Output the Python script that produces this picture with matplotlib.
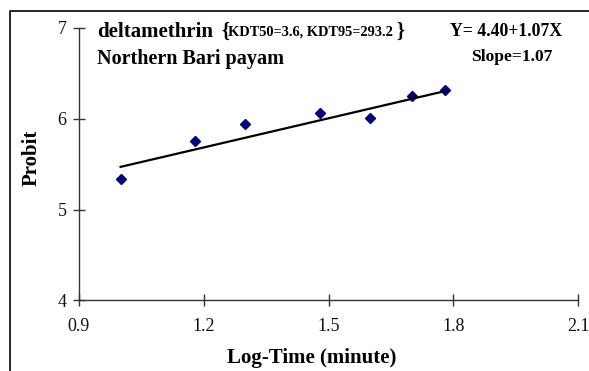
import numpy as np
import matplotlib
matplotlib.use('Agg')
import matplotlib.pyplot as plt
from matplotlib.lines import Line2D

# 데이터
log_time = [1.00, 1.18, 1.30, 1.48, 1.60, 1.70, 1.78]
probit = [5.34, 5.75, 5.94, 6.06, 6.01, 6.25, 6.32]
intercept = 4.40
slope = 1.07
x_ticks = [0.9, 1.2, 1.5, 1.8, 2.1]
y_ticks = [4, 5, 6, 7]

plt.rcParams['font.family'] = ['Liberation Serif', 'DejaVu Serif']

W, H = 589, 371
fig = plt.figure(figsize=(W / 100, H / 100), dpi=100)
ax = fig.add_axes([79 / W, 1 - 300.3 / H, (578 - 79) / W, (300.3 - 28) / H])

ax.plot(log_time, probit, 'D', color='#000080', markersize=5, linestyle='none')
fx = np.array([log_time[0], log_time[-1]])
ax.plot(fx, intercept + slope * fx, color='black', lw=1.6)

ax.set_xlim(0.9, 2.1)
ax.set_ylim(4, 7)
ax.set_xticks(x_ticks)
ax.set_xticklabels([f'{v:.1f}' for v in x_ticks])
ax.set_yticks(y_ticks)
for s in ['top', 'right']:
    ax.spines[s].set_visible(False)
for s in ['left', 'bottom']:
    ax.spines[s].set_color('#333333')
    ax.spines[s].set_linewidth(1.0)
ax.tick_params(direction='inout', length=8, width=1.0, color='#333333',
               labelsize=13, labelcolor='#111111')
ax.tick_params(axis='x', pad=9)
ax.tick_params(axis='y', pad=5)
ax.patch.set_visible(False)

# 축 제목
fig.text(312 / W, 1 - 358 / H, 'Log-Time (minute)', fontsize=15, fontweight='bold',
         ha='center', va='center')
fig.text(32 / W, 1 - 158 / H, 'Probit', fontsize=15, fontweight='bold',
         rotation=90, ha='center', va='center')

# 주석
fig.text(97 / W, 1 - 32 / H, 'deltamethrin', fontsize=15, fontweight='bold',
         ha='left', va='center')
fig.text(221 / W, 1 - 32 / H, '{', fontsize=14.5, fontweight='bold',
         ha='left', va='center')
fig.text(228 / W, 1 - 32 / H, 'KDT50=3.6, KDT95=293.2', fontsize=10.4,
         fontweight='bold', ha='left', va='center')
fig.text(396 / W, 1 - 32 / H, '}', fontsize=14.5, fontweight='bold',
         ha='left', va='center')
fig.text(97 / W, 1 - 59 / H, 'Northern Bari payam', fontsize=14.5, fontweight='bold',
         ha='left', va='center')
fig.text(506 / W, 1 - 31 / H, f'Y= {intercept:.2f}+{slope:.2f}X', fontsize=12.8,
         fontweight='bold', ha='center', va='center')
fig.text(512 / W, 1 - 57 / H, f'Slope={slope:.2f}', fontsize=12.6,
         fontweight='bold', ha='center', va='center')

# 바깥 테두리
fig.add_artist(Line2D([10 / W, 10 / W, 1.0], [0, 1 - 10.5 / H, 1 - 10.5 / H],
                      transform=fig.transFigure, color='black', lw=1.2))

fig.savefig('out.png', dpi=100)
